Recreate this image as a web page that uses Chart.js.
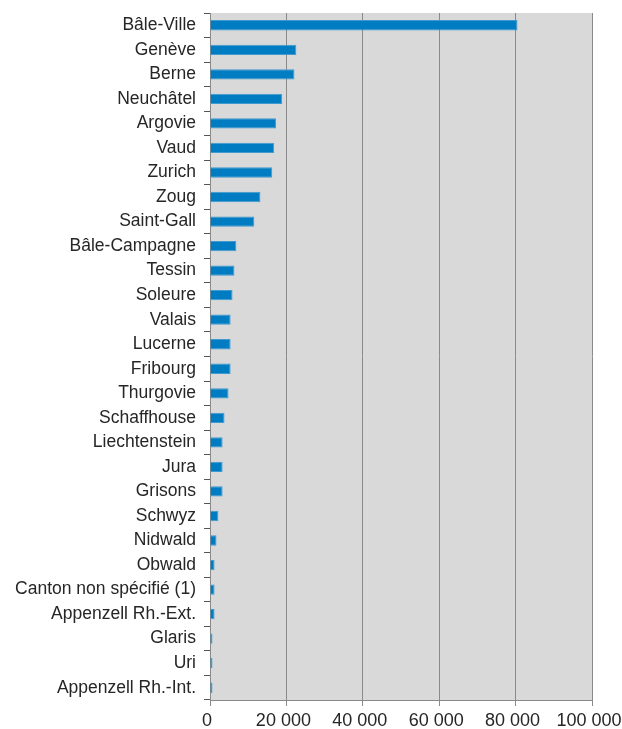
<!DOCTYPE html>
<html>
<head>
<meta charset="utf-8">
<script src="https://cdn.jsdelivr.net/npm/chart.js@4"></script>
<style>
  html, body { margin: 0; padding: 0; background: #fff; }
  #wrap { width: 622px; height: 729px; }
</style>
</head>
<body>
<div id="wrap"><canvas id="myChart"></canvas></div>
<script>
const cantons = [
    'Bâle-Ville', 'Genève', 'Berne', 'Neuchâtel', 'Argovie', 'Vaud', 'Zurich',
    'Zoug', 'Saint-Gall', 'Bâle-Campagne', 'Tessin', 'Soleure', 'Valais',
    'Lucerne', 'Fribourg', 'Thurgovie', 'Schaffhouse', 'Liechtenstein', 'Jura',
    'Grisons', 'Schwyz', 'Nidwald', 'Obwald', 'Canton non spécifié (1)',
    'Appenzell Rh.-Ext.', 'Glaris', 'Uri', 'Appenzell Rh.-Int.'
];

const values = [
    80500, 22600, 22100, 18900, 17300, 16800, 16300,
    13200, 11600, 6900, 6400, 5900, 5400,
    5400, 5400, 4850, 3800, 3300, 3300,
    3300, 2200, 1700, 1200, 1200,
    1200, 650, 650, 650
];

const xTicks = [0, 20000, 40000, 60000, 80000, 100000];

const fmt = v => String(v).replace(/\B(?=(\d{3})+(?!\d))/g, ' ');

const plotBg = {
    id: 'plotBg',
    beforeDraw(chart) {
        const a = chart.chartArea;
        const c = chart.ctx;
        c.save();
        c.fillStyle = '#d9d9d9';
        c.fillRect(a.left, a.top, a.right - a.left, a.bottom - a.top);
        c.restore();
    }
};

Chart.defaults.font.family = '"Liberation Sans", Arial, sans-serif';
Chart.defaults.color = '#262626';

const ctx = document.getElementById('myChart').getContext('2d');
const myChart = new Chart(ctx, {
    type: 'bar',
    data: {
        labels: cantons,
        datasets: [{
            data: values,
            backgroundColor: '#007cc3',
            borderColor: '#3f9ad0',
            borderWidth: 1,
            borderSkipped: 'start',
            barPercentage: 0.42,
            categoryPercentage: 1
        }]
    },
    options: {
        indexAxis: 'y',
        responsive: true,
        maintainAspectRatio: false,
        animation: false,
        layout: { padding: { top: 13, right: 30, left: 0, bottom: 0 } },
        plugins: {
            legend: { display: false },
            tooltip: { enabled: false }
        },
        scales: {
            x: {
                min: 0,
                max: 100000,
                afterBuildTicks: scale => { scale.ticks = xTicks.map(v => ({ value: v })); },
                afterFit: scale => {
                    scale.height = 29;
                    scale.paddingLeft = 0;
                    scale.paddingRight = 0;
                },
                grid: { color: '#8a8a8a', lineWidth: 1, tickLength: 6, drawTicks: true },
                border: { color: '#8a8a8a' },
                ticks: {
                    font: { size: 18 },
                    padding: 4,
                    labelOffset: -3,
                    maxRotation: 0,
                    callback: v => fmt(v)
                }
            },
            y: {
                afterFit: scale => {
                    scale.width = 210;
                    scale.paddingTop = 0;
                    scale.paddingBottom = 0;
                },
                grid: { offset: true, drawOnChartArea: false, color: '#555', tickLength: 6 },
                border: { color: '#8a8a8a' },
                ticks: {
                    font: { size: 17.5 },
                    padding: 8,
                    autoSkip: false
                }
            }
        }
    },
    plugins: [plotBg]
});
</script>
</body>
</html>
